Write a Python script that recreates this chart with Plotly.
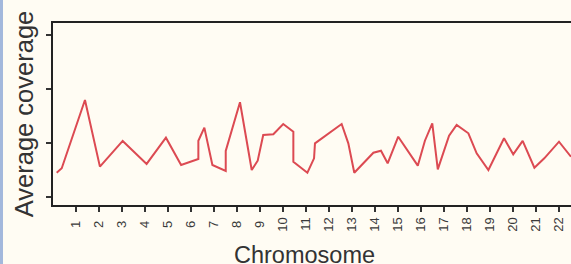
import plotly.graph_objects as go

# Data (x in chromosome units, y = average coverage, arbitrary scale)
positions = [0.16, 0.38, 1.39, 2.04, 3.03, 4.07, 4.91, 5.57, 6.32, 6.32, 6.58, 6.93,
             7.51, 7.51, 8.13, 8.64, 8.90, 9.14, 9.58, 10.01, 10.45, 10.45, 11.06,
             11.35, 11.39, 12.55, 12.84, 13.10, 13.93, 14.26, 14.55, 15.01, 15.86,
             16.17, 16.49, 16.73, 17.22, 17.55, 18.06, 18.42, 18.93, 19.61, 20.01,
             20.42, 20.93, 21.36, 22.00, 22.52]
coverage = [27.25, 27.66, 33.98, 27.81, 30.19, 28.06, 30.49, 27.96, 28.52, 30.21, 31.42, 27.96,
            27.41, 29.26, 33.77, 27.50, 28.36, 30.74, 30.81, 31.76, 31.05, 28.27, 27.25,
            28.58, 29.97, 31.76, 29.97, 27.25, 29.10, 29.29, 28.12, 30.58, 27.90,
            30.21, 31.82, 27.56, 30.68, 31.67, 30.90, 29.05, 27.50, 30.44, 28.95,
            30.19, 27.71, 28.58, 30.12, 28.73]
chrom_ticks = list(range(1, 23))
chrom_labels = [str(c) if c >= 10 else str(c) + "\u00a0" for c in chrom_ticks]
y_ticks = [25, 30, 35, 40]

W, H = 571, 264
ML, MR, MT, MB = 53, 0, 23, 59
BG = "#FFFCF3"
plot_w = W - ML - MR
plot_h = H - MT - MB

fig = go.Figure()
fig.add_trace(go.Scatter(x=positions, y=coverage, mode="lines",
                         line=dict(color="#DC4A52", width=2), hoverinfo="skip"))

fig.update_layout(
    width=W, height=H,
    margin=dict(l=ML, r=MR, t=MT, b=MB, pad=0, autoexpand=False),
    paper_bgcolor=BG, plot_bgcolor=BG,
    showlegend=False,
    font=dict(family="Liberation Sans, Arial, sans-serif", color="#333333"),
)
fig.update_xaxes(
    automargin=False,
    range=[0, 1 + (W - 76) / 23.0],
    tickmode="array", tickvals=chrom_ticks, ticktext=chrom_labels,
    tickangle=-90, ticks="outside", ticklen=5, tickwidth=1.5, tickcolor="#333333",
    tickfont=dict(size=13, color="#3a3a3a"),
    showline=True, linecolor="#222222", linewidth=2, mirror=True,
    showgrid=False, zeroline=False,
)
fig.update_yaxes(
    automargin=False,
    range=[25 + (197 - 205) / 10.8, 25 + (197 - 23) / 10.8],
    tickmode="array", tickvals=y_ticks, showticklabels=False,
    ticks="outside", ticklen=5, tickwidth=1.5, tickcolor="#333333",
    showline=True, linecolor="#222222", linewidth=2, mirror=False,
    showgrid=False, zeroline=False,
    title=dict(text="Average coverage", font=dict(size=25.5, color="#333333"), standoff=5),
)
# x-axis title (placed as annotation to match the reference's horizontal centring)
fig.add_annotation(text="Chromosome", xref="paper", yref="paper",
                   x=(304 - ML) / plot_w, y=(H - MB - 255) / plot_h,
                   xanchor="center", yanchor="middle", showarrow=False,
                   font=dict(size=23.5, color="#333333"))
# thin blue page border at the left edge
fig.add_shape(type="rect", xref="paper", yref="paper",
              x0=(0 - ML) / plot_w, x1=(3 - ML) / plot_w, y0=-MB / plot_h, y1=1 + MT / plot_h,
              fillcolor="#A3B8DC", line=dict(width=0), layer="above")

fig.write_html("out.html", config={"displayModeBar": False},
               post_script="document.body.style.margin='0';document.body.style.overflow='hidden';")
